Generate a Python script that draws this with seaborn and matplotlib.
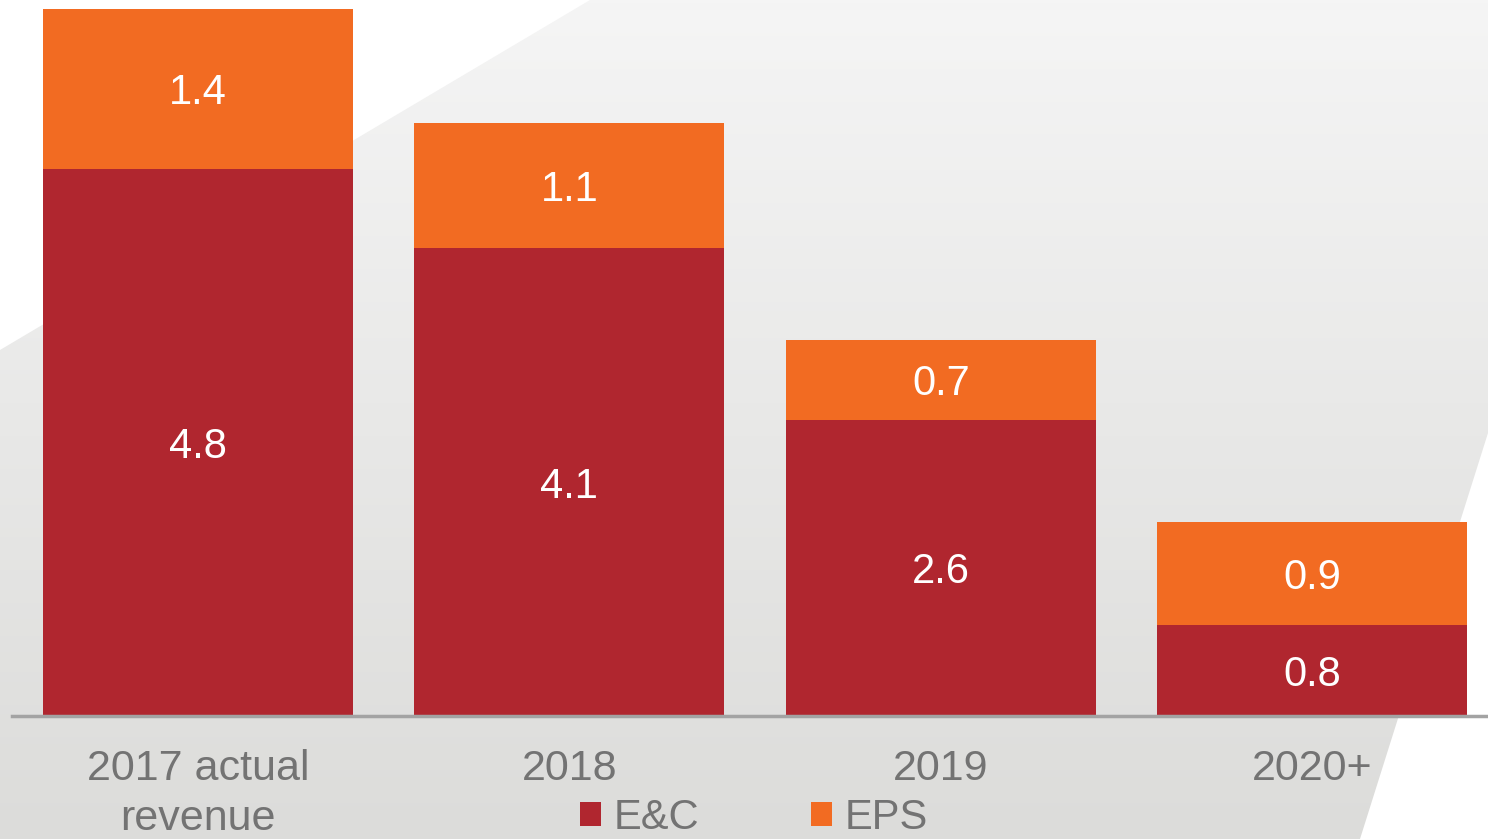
import numpy as np
import pandas as pd
import matplotlib
matplotlib.use("Agg")
import matplotlib.pyplot as plt
from matplotlib.colors import LinearSegmentedColormap
from matplotlib.patches import Polygon, Patch
import seaborn as sns

# chart data
categories = ["2017 actual\nrevenue", "2018", "2019", "2020+"]
ec_values = [4.8, 4.1, 2.6, 0.8]
eps_values = [1.4, 1.1, 0.7, 0.9]
series_names = ["E&C", "EPS"]

RED = "#b0262f"
ORANGE = "#f26b22"
GREY_TEXT = "#737373"

sns.set_theme(style="white")
plt.rcParams["font.family"] = ["Liberation Sans", "DejaVu Sans"]

W, H = 1488, 839
fig = plt.figure(figsize=(W / 100, H / 100), dpi=100, facecolor="white")

# background: light grey gradient panel with slanted edges
bg = fig.add_axes([0, 0, 1, 1], zorder=-1)
bg.set_xlim(0, W)
bg.set_ylim(H, 0)
bg.axis("off")
grad = np.linspace(0, 1, 256).reshape(-1, 1)
cmap = LinearSegmentedColormap.from_list("bg", ["#f5f5f5", "#dcdcda"])
im = bg.imshow(grad, cmap=cmap, extent=[0, W, H, 0], aspect="auto")
panel = Polygon([(590, 0), (W, 0), (W, 433), (1360, H), (0, H), (0, 350)],
                closed=True, facecolor="none", edgecolor="none")
bg.add_patch(panel)
im.set_clip_path(panel)

# main axes
df = pd.DataFrame({"category": categories, "ec": ec_values, "eps": eps_values})
df["total"] = df["ec"] + df["eps"]

ax = fig.add_axes([12 / W, 1 - 716 / H, (1498 - 12) / W, (716 - 9) / H])
ax.set_facecolor("none")
sns.barplot(data=df, x="category", y="total", color=ORANGE, saturation=1,
            width=0.834, linewidth=0, edgecolor="none", ax=ax)
sns.barplot(data=df, x="category", y="ec", color=RED, saturation=1,
            width=0.834, linewidth=0, edgecolor="none", ax=ax)
ax.set_xlim(-0.5, 3.5)
ax.set_ylim(0, df["total"].max())

for i, row in df.iterrows():
    ax.text(i, row["ec"] / 2, f"{row['ec']:.1f}", ha="center",
            va="center_baseline", color="white", fontsize=30)
    ax.text(i, row["ec"] + row["eps"] / 2, f"{row['eps']:.1f}", ha="center",
            va="center_baseline", color="white", fontsize=30)

for s in ["top", "right", "left"]:
    ax.spines[s].set_visible(False)
ax.spines["bottom"].set_color("#a3a3a3")
ax.spines["bottom"].set_linewidth(2.5)
ax.set_yticks([])
ax.set_xlabel("")
ax.set_ylabel("")
ax.tick_params(axis="x", length=0, pad=24, labelsize=31, labelcolor=GREY_TEXT)
for lbl in ax.get_xticklabels():
    lbl.set_linespacing(1.3)

handles = [Patch(facecolor=RED, edgecolor="none"),
           Patch(facecolor=ORANGE, edgecolor="none")]
fig.legend(handles, series_names, loc="center",
           bbox_to_anchor=(754 / W, 1 - 818 / H), ncol=2, frameon=False,
           fontsize=30, labelcolor=GREY_TEXT, handlelength=0.5,
           handleheight=0.5, handletextpad=0.3, columnspacing=2.7,
           borderpad=0)

fig.savefig("out.png", dpi=100, facecolor="white")
